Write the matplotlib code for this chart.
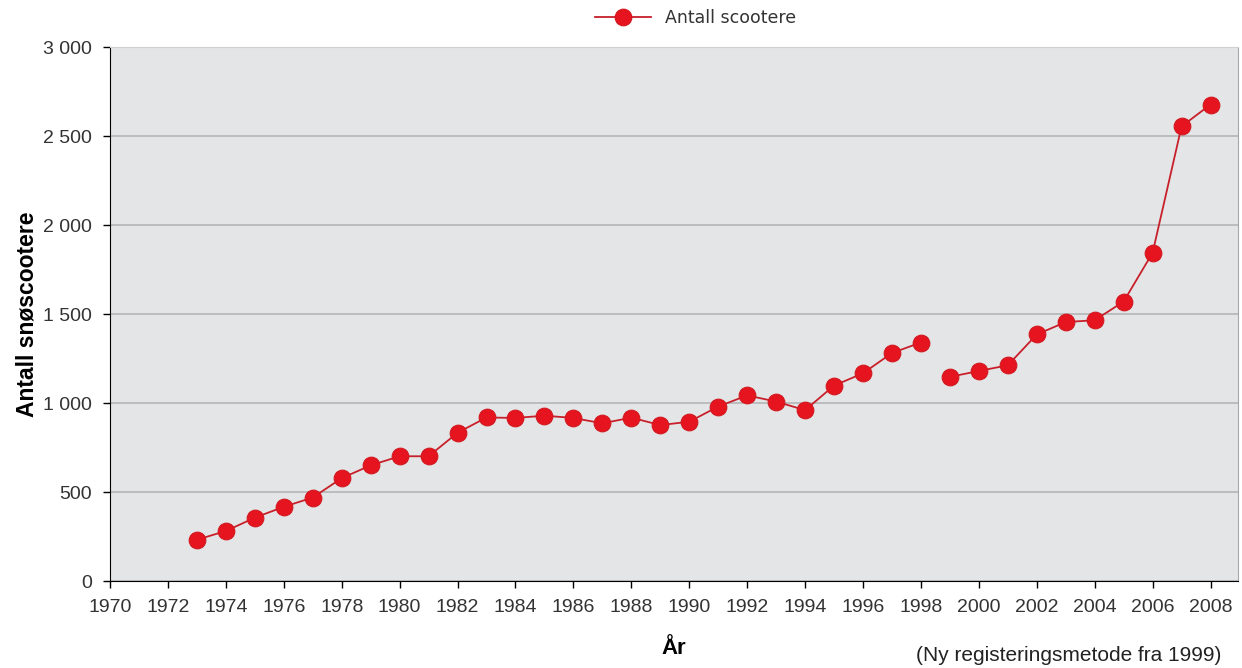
import matplotlib.pyplot as plt
import matplotlib.ticker as ticker

plt.rcParams['font.family'] = ['Liberation Sans', 'DejaVu Sans']

# gammel registreringsmetode (til og med 1998)
aar_gammel = [1973, 1974, 1975, 1976, 1977, 1978, 1979, 1980, 1981, 1982,
              1983, 1984, 1985, 1986, 1987, 1988, 1989, 1990, 1991, 1992,
              1993, 1994, 1995, 1996, 1997, 1998]
antall_gammel = [232, 281, 356, 417, 469, 578, 650, 701, 701, 833,
                 919, 916, 929, 916, 886, 918, 876, 895, 980, 1043,
                 1008, 960, 1098, 1167, 1281, 1340]

# ny registreringsmetode fra 1999
aar_ny = [1999, 2000, 2001, 2002, 2003, 2004, 2005, 2006, 2007, 2008]
antall_ny = [1147, 1180, 1212, 1385, 1455, 1465, 1570, 1844, 2554, 2677]

xticks = list(range(1970, 2009, 2))
yticks = [0, 500, 1000, 1500, 2000, 2500, 3000]

fig = plt.figure(figsize=(12.42, 6.68), dpi=100)
ax = fig.add_axes([0.0886, 0.1302, 0.9082, 0.7994])
ax.set_facecolor('#e4e5e6')

stil = dict(color='#c8202a', linewidth=1.3, marker='o', markersize=12,
            markerfacecolor='#e5141e', markeredgecolor='#d21820', markeredgewidth=0.8)
ax.plot(aar_gammel, antall_gammel, label='Antall scootere', **stil)
ax.plot(aar_ny, antall_ny, **stil)

ax.set_xlim(1970, 2008.95)
ax.set_ylim(0, 3000)
ax.set_xticks(xticks)
ax.set_yticks(yticks)
ax.yaxis.set_major_formatter(ticker.FuncFormatter(lambda v, p: f'{int(v):,}'.replace(',', ' ')))
ax.tick_params(axis='both', direction='out', length=5, width=1, colors='black',
               labelsize=14, labelcolor='#333333')
ax.tick_params(axis='y', pad=8)
ax.tick_params(axis='x', pad=8)

ax.grid(axis='y', color='#b4b6b8', linewidth=1.2)
ax.set_axisbelow(True)
ax.spines['left'].set_color('black')
ax.spines['bottom'].set_color('black')
ax.spines['top'].set_color('#d0d0d0')
ax.spines['right'].set_color('#a8a8a8')

ax.set_ylabel('Antall snøscootere', fontsize=16.5, fontweight='bold', labelpad=3)
ax.set_xlabel('År', fontsize=16, fontweight='bold', labelpad=16)
fig.text(0.983, 0.005, '(Ny registeringsmetode fra 1999)', ha='right', va='bottom',
         fontsize=15, color='#222222')

leg = fig.legend(loc='upper center', bbox_to_anchor=(0.56, 1.01), frameon=False,
                 prop={'family': 'DejaVu Sans', 'size': 12.5}, handlelength=3.2)
for t in leg.get_texts():
    t.set_color('#333333')

fig.savefig('out.png', dpi=100)
